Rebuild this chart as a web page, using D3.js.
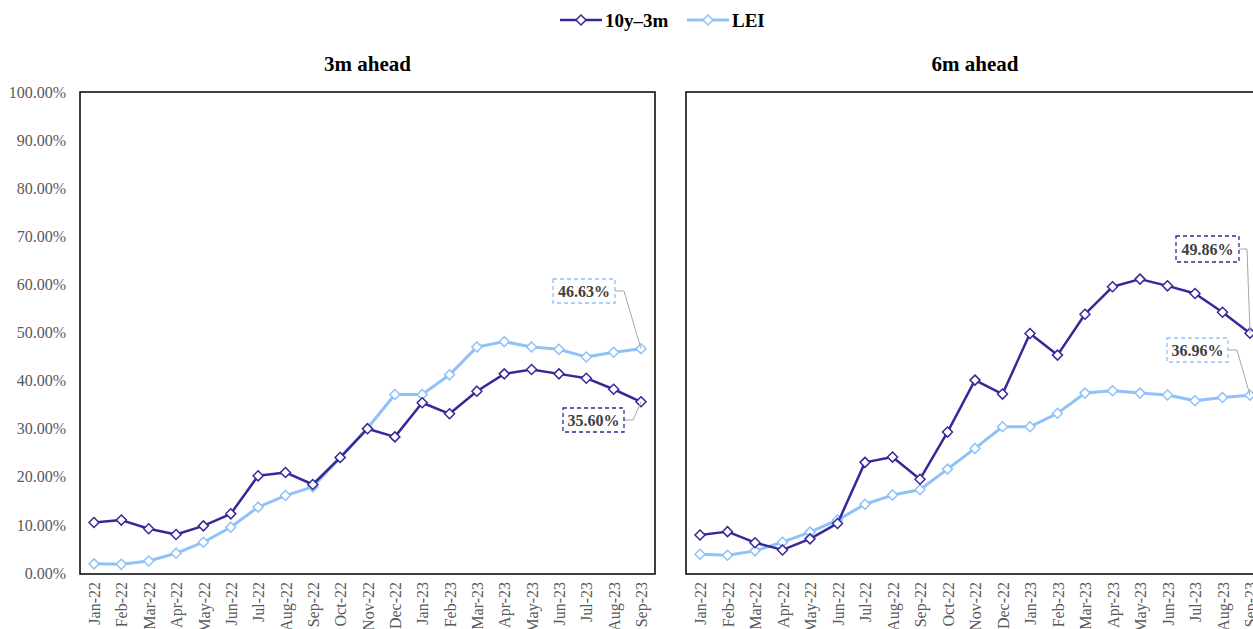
<!DOCTYPE html>
<html>
<head>
<meta charset="utf-8">
<script src="https://cdn.jsdelivr.net/npm/d3@7"></script>
<style>
  body { margin: 0; background: #fff; }
  svg { display: block; font-family: "Liberation Serif", "DejaVu Serif", serif; }
</style>
</head>
<body>
<svg id="chart" width="1253" height="629"></svg>
<script>
const months = ["Jan-22","Feb-22","Mar-22","Apr-22","May-22","Jun-22","Jul-22","Aug-22","Sep-22","Oct-22","Nov-22","Dec-22",
                "Jan-23","Feb-23","Mar-23","Apr-23","May-23","Jun-23","Jul-23","Aug-23","Sep-23"];

// 3m ahead
const curve3m = [0.105,0.110,0.092,0.080,0.098,0.123,0.202,0.209,0.184,0.240,0.300,0.283,
                 0.354,0.331,0.378,0.414,0.423,0.414,0.405,0.382,0.3560];
const lei3m   = [0.019,0.018,0.025,0.041,0.064,0.095,0.137,0.161,0.179,0.240,0.301,0.371,
                 0.371,0.412,0.470,0.481,0.470,0.465,0.449,0.459,0.4663];

// 6m ahead
const curve6m = [0.079,0.086,0.063,0.048,0.071,0.103,0.230,0.241,0.195,0.293,0.401,0.372,
                 0.498,0.453,0.538,0.595,0.611,0.597,0.581,0.542,0.4986];
const lei6m   = [0.039,0.037,0.046,0.064,0.085,0.110,0.143,0.162,0.173,0.216,0.259,0.304,
                 0.304,0.332,0.374,0.379,0.374,0.370,0.358,0.365,0.3696];

const yTicks = d3.range(0, 1.0001, 0.1);
const seriesNames = ["10y\u20133m", "LEI"];
const colors = { curve: "#35299a", lei: "#8fc2f8" };

const svg = d3.select("#chart");
const y = d3.scaleLinear().domain([0, 1]).range([573, 92]);

function diamond(g, cx, cy, color) {
  g.append("path")
    .attr("d", `M${cx},${cy - 5}L${cx + 5},${cy}L${cx},${cy + 5}L${cx - 5},${cy}Z`)
    .attr("fill", "#fff")
    .attr("stroke", color)
    .attr("stroke-width", 1.5);
}

function panel(opts) {
  const g = svg.append("g");
  const x = d3.scalePoint().domain(months).range([opts.x0, opts.x1]);

  g.append("rect")
    .attr("x", opts.left).attr("y", 92)
    .attr("width", opts.right - opts.left).attr("height", 482)
    .attr("fill", "none").attr("stroke", "#000").attr("stroke-width", 1.5);

  g.append("text")
    .attr("x", (opts.left + opts.right) / 2).attr("y", 71)
    .attr("text-anchor", "middle")
    .attr("font-size", 21).attr("font-weight", "bold")
    .text(opts.title);

  if (opts.yAxis) {
    const ya = g.append("g").attr("transform", "translate(66,0)")
      .call(d3.axisLeft(y).tickValues(yTicks).tickSize(0).tickFormat(d3.format(".2%")));
    ya.select(".domain").remove();
    ya.selectAll("text")
      .attr("font-family", "Liberation Serif, serif")
      .attr("font-size", 16).attr("fill", "#595959").attr("x", 0);
  }

  const xa = g.append("g").attr("transform", "translate(0,578)")
    .call(d3.axisBottom(x).tickSize(0));
  xa.select(".domain").remove();
  xa.selectAll("text")
    .attr("font-family", "Liberation Serif, serif")
    .attr("font-size", 16).attr("fill", "#595959")
    .attr("transform", "rotate(-90)")
    .attr("text-anchor", "end")
    .attr("x", -4).attr("y", 0).attr("dy", "0.35em");

  const line = d3.line().x((d, i) => x(months[i])).y(d => y(d));
  const series = [
    { values: opts.lei, color: colors.lei, width: 3 },
    { values: opts.curve, color: colors.curve, width: 2.5 }
  ];
  series.forEach(s => {
    g.append("path").datum(s.values)
      .attr("d", line).attr("fill", "none")
      .attr("stroke", s.color).attr("stroke-width", s.width)
      .attr("stroke-linejoin", "round");
    s.values.forEach((v, i) => diamond(g, x(months[i]), y(v), s.color));
  });

  // end-of-series labels
  opts.labels.forEach(l => {
    const last = l.values[l.values.length - 1];
    const px = x(months[months.length - 1]), py = y(last);
    g.append("polyline")
      .attr("points", `${l.bx + l.bw},${l.by + l.bh / 2} ${l.kx},${l.by + l.bh / 2} ${px},${py}`)
      .attr("fill", "none").attr("stroke", "#a6a6a6").attr("stroke-width", 1);
    g.append("rect")
      .attr("x", l.bx).attr("y", l.by).attr("width", l.bw).attr("height", l.bh)
      .attr("fill", "#fff").attr("stroke", l.color).attr("stroke-width", 1.3)
      .attr("stroke-dasharray", "4,3");
    g.append("text")
      .attr("x", l.bx + l.bw / 2).attr("y", l.by + l.bh / 2)
      .attr("dy", "0.35em").attr("text-anchor", "middle")
      .attr("font-size", 16).attr("font-weight", "bold").attr("fill", "#404040")
      .text(d3.format(".2%")(last));
  });
}

panel({
  title: "3m ahead", left: 80, right: 655, x0: 94, x1: 641, yAxis: true,
  curve: curve3m, lei: lei3m,
  labels: [
    { values: lei3m, color: colors.lei, bx: 553, by: 279, bw: 62, bh: 24, kx: 624 },
    { values: curve3m, color: colors.curve, bx: 563, by: 408, bw: 61, bh: 24, kx: 633 }
  ]
});

panel({
  title: "6m ahead", left: 686, right: 1264, x0: 700, x1: 1250, yAxis: false,
  curve: curve6m, lei: lei6m,
  labels: [
    { values: curve6m, color: colors.curve, bx: 1176, by: 236, bw: 63, bh: 26, kx: 1247 },
    { values: lei6m, color: colors.lei, bx: 1167, by: 338, bw: 61, bh: 24, kx: 1237 }
  ]
});

// legend
const legend = svg.append("g").attr("transform", "translate(0,20)");
const legendItems = [
  { name: seriesNames[0], color: colors.curve, x: 560, w: 2.5 },
  { name: seriesNames[1], color: colors.lei, x: 687, w: 3 }
];
legendItems.forEach(it => {
  legend.append("line").attr("x1", it.x).attr("x2", it.x + 42).attr("y1", 0).attr("y2", 0)
    .attr("stroke", it.color).attr("stroke-width", it.w);
  diamond(legend, it.x + 21, 0, it.color);
  legend.append("text").attr("x", it.x + 45).attr("y", 0).attr("dy", "0.35em")
    .attr("font-size", 19).attr("font-weight", "bold").attr("fill", "#000")
    .text(it.name);
});
</script>
</body>
</html>
